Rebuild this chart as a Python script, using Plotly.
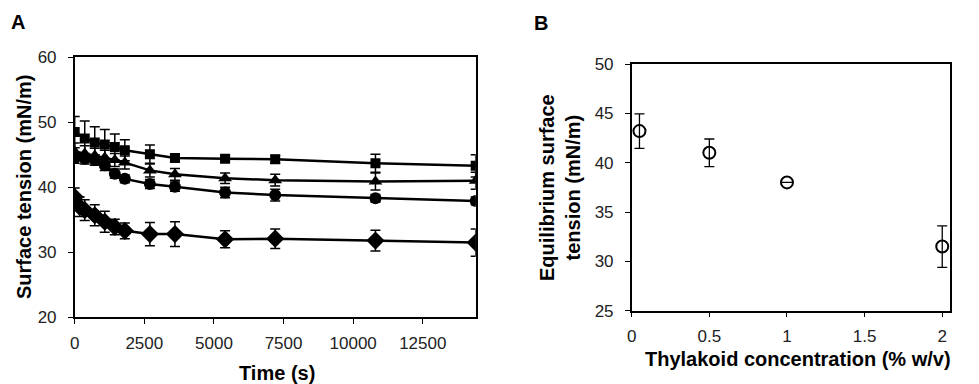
import plotly.graph_objects as go

# Panel A data
time_s = [0, 360, 720, 1080, 1440, 1800, 2700, 3600, 5400, 7200, 10800, 14400]
time_d = [0, 180, 360, 720, 1080, 1440, 1800, 2700, 3600, 5400, 7200, 10800, 14400]

sq_val = [48.5, 47.5, 46.9, 46.6, 46.2, 45.7, 45.1, 44.5, 44.4, 44.3, 43.7, 43.3]
sq_err = [2.4, 2.7, 2.4, 2.3, 2.0, 1.6, 1.4, 0.5, 0.4, 0.6, 1.4, 1.7]

tr_val = [45.5, 45.2, 44.9, 44.6, 44.2, 43.8, 42.6, 42.0, 41.4, 41.1, 40.9, 41.0]
tr_err = [1.3, 1.2, 1.1, 1.1, 1.0, 1.0, 1.0, 0.9, 0.8, 0.9, 1.3, 1.3]

ci_val = [44.5, 44.4, 44.2, 43.4, 42.1, 41.3, 40.5, 40.1, 39.2, 38.8, 38.3, 37.9]
ci_err = [0.8, 0.8, 0.8, 0.8, 0.7, 0.6, 0.7, 0.7, 0.8, 0.9, 0.6, 0.6]

di_val = [38.5, 37.0, 36.5, 35.7, 34.7, 33.9, 33.3, 32.8, 32.8, 32.0, 32.1, 31.8, 31.5]
di_err = [1.4, 1.5, 1.6, 1.6, 1.6, 1.2, 1.2, 1.8, 1.9, 1.3, 1.5, 1.6, 2.1]

x_ticks_a = [0, 2500, 5000, 7500, 10000, 12500]
y_ticks_a = [20, 30, 40, 50, 60]

# Panel B data
conc = [0.05, 0.5, 1, 2]
eq_val = [43.2, 41.0, 38.0, 31.5]
eq_err = [1.75, 1.4, 0.0, 2.1]

x_ticks_b = [0, 0.5, 1, 1.5, 2]
x_ticktext_b = ["0", "0.5", "1", "1.5", "2"]
y_ticks_b = [25, 30, 35, 40, 45, 50]

FONT = "Liberation Sans, Arial, sans-serif"
W, H = 979, 384

fig = go.Figure()

def series(x, y, e, sym, size):
    fig.add_trace(go.Scatter(
        x=x, y=y, mode="lines+markers",
        line=dict(color="black", width=2.5),
        marker=dict(symbol=sym, size=size, color="black"),
        error_y=dict(type="data", array=e, visible=True, color="black",
                     thickness=1.5, width=5),
        xaxis="x", yaxis="y", showlegend=False))

series(time_d, di_val, di_err, "diamond", 14)
series(time_s, ci_val, ci_err, "circle", 12)
series(time_s, tr_val, tr_err, "triangle-up", 12)
series(time_s, sq_val, sq_err, "square", 10)

fig.add_trace(go.Scatter(
    x=conc, y=eq_val, mode="markers",
    marker=dict(symbol="circle-open", size=12, color="black",
                line=dict(width=2, color="black")),
    error_y=dict(type="data", array=eq_err, visible=True, color="black",
                 thickness=1.3, width=5),
    xaxis="x2", yaxis="y2", showlegend=False))

def px_x(p):
    return p / W

def px_y(p):
    return 1 - p / H

axis_common = dict(showgrid=False, zeroline=False, showline=True, linecolor="black",
                   linewidth=1.5, mirror=True, ticks="outside", ticklen=5,
                   tickcolor="black", tickwidth=1.2, automargin=False,
                   tickfont=dict(family=FONT, size=17, color="#222"))

fig.update_layout(
    width=W, height=H, margin=dict(l=0, r=0, t=0, b=0),
    paper_bgcolor="white", plot_bgcolor="white",
    xaxis=dict(domain=[px_x(74.7), px_x(475.7)], range=[0, 14400],
               tickvals=x_ticks_a, ticktext=[str(v) for v in x_ticks_a], anchor="y",
               ticklabelstandoff=5, **axis_common),
    yaxis=dict(domain=[px_y(317.3), px_y(57.3)], range=[20, 60],
               tickvals=y_ticks_a, ticktext=[str(v) for v in y_ticks_a], anchor="x",
               ticklabelstandoff=8, **axis_common),
    xaxis2=dict(domain=[px_x(631.7), px_x(950)], range=[0, 2.05],
                tickvals=x_ticks_b, ticktext=x_ticktext_b, anchor="y2",
                ticklabelstandoff=4, **axis_common),
    yaxis2=dict(domain=[px_y(310.7), px_y(64)], range=[25, 50],
                tickvals=y_ticks_b, ticktext=[str(v) for v in y_ticks_b], anchor="x2",
                ticklabelstandoff=8, **axis_common),
)

tf = dict(family=FONT, size=20, color="black")
ann = [
    dict(text="<b>A</b>", x=px_x(17.5), y=px_y(22), xanchor="center", yanchor="middle"),
    dict(text="<b>B</b>", x=px_x(541), y=px_y(23), xanchor="center", yanchor="middle"),
    dict(text="<b>Time (s)</b>", x=px_x(277), y=px_y(373), xanchor="center", yanchor="middle"),
    dict(text="<b>Surface tension (mN/m)</b>", x=px_x(24), y=px_y(187), xanchor="center",
         yanchor="middle", textangle=-90),
    dict(text="<b>Thylakoid concentration (% w/v)</b>", x=px_x(798), y=px_y(359),
         xanchor="center", yanchor="middle"),
    dict(text="<b>Equilibrium surface<br>tension (mN/m)</b>", x=px_x(560), y=px_y(188),
         xanchor="center", yanchor="middle", textangle=-90),
]
for a in ann:
    a.update(xref="paper", yref="paper", showarrow=False, font=tf)
fig.update_layout(annotations=ann)

fig.write_html("out.html")
